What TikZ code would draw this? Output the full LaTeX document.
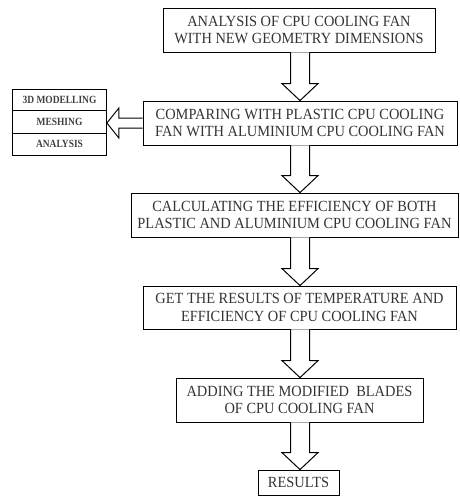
\documentclass[tikz,border=0pt]{standalone}
\usepackage{fontspec}
\setmainfont{Liberation Serif}
\newfontfamily\boxfont[FakeStretch=0.93]{Liberation Serif}
\newfontfamily\cellfont[FakeStretch=0.86]{Liberation Serif}
\usetikzlibrary{calc}
\newcommand\vflow[2]{%
  \coordinate (vs) at (#1.south -| ax);
  \coordinate (ve) at (#2.north -| ax);
  \draw[blk] ($(vs)+(-9.5,0)$) -- ($(ve)+(-9.5,-17)$) -- ($(ve)+(-18,-17)$) -- (ve)
    -- ($(ve)+(18,-17)$) -- ($(ve)+(9.5,-17)$) -- ($(vs)+(9.5,0)$);}
\begin{document}
\begin{tikzpicture}[x=1pt,y=-1pt,
  box/.style={draw, line width=0.8pt, inner sep=0pt, align=center,
    font=\boxfont\fontsize{15.5}{17.5}\selectfont, text=black!80},
  cell/.style={draw, line width=0.8pt, minimum width=94pt, inner sep=0pt,
    font=\cellfont\bfseries\fontsize{11}{12}\selectfont, text=black!75},
  blk/.style={draw, line width=1pt, fill=white, line join=miter}]
\useasboundingbox (0,0) rectangle (459,496);
\coordinate (ax) at (300,0);
\node[box, minimum width=272pt, minimum height=44pt] (b1) at (299,30)
  {ANALYSIS OF CPU COOLING FAN\\WITH NEW GEOMETRY DIMENSIONS};
\node[box, minimum width=314pt, minimum height=44pt] (b2) at (300,123)
  {COMPARING WITH PLASTIC CPU COOLING\\FAN WITH ALUMINIUM CPU COOLING FAN};
\node[box, minimum width=327pt, minimum height=44pt] (b3) at (294.5,215)
  {CALCULATING THE EFFICIENCY OF BOTH\\PLASTIC AND ALUMINIUM CPU COOLING FAN};
\node[box, minimum width=313pt, minimum height=43pt] (b4) at (299.5,307.5)
  {GET THE RESULTS OF TEMPERATURE AND\\EFFICIENCY OF CPU COOLING FAN};
\node[box, minimum width=247pt, minimum height=44pt] (b5) at (299.5,400)
  {ADDING THE MODIFIED\ \ BLADES\\OF CPU COOLING FAN};
\node[box, minimum width=81pt, minimum height=25pt] (b6) at (298.5,482.5)
  {RESULTS};
\node[cell, minimum height=21.5pt] (c1) at (59.5,99.75) {3D MODELLING};
\node[cell, minimum height=22.5pt] (c2) at (59.5,121.75) {MESHING};
\node[cell, minimum height=22pt] (c3) at (59.5,144) {ANALYSIS};
\vflow{b1}{b2}
\vflow{b2}{b3}
\vflow{b3}{b4}
\vflow{b4}{b5}
\vflow{b5}{b6}
\coordinate (ls) at (b2.west);
\coordinate (le) at (c2.east |- ls);
\draw[blk] ($(ls)+(0,-5)$) -- ($(le)+(12,-5)$) -- ($(le)+(12,-15)$) -- (le)
  -- ($(le)+(12,15)$) -- ($(le)+(12,5)$) -- ($(ls)+(0,5)$);
\end{tikzpicture}
\end{document}
